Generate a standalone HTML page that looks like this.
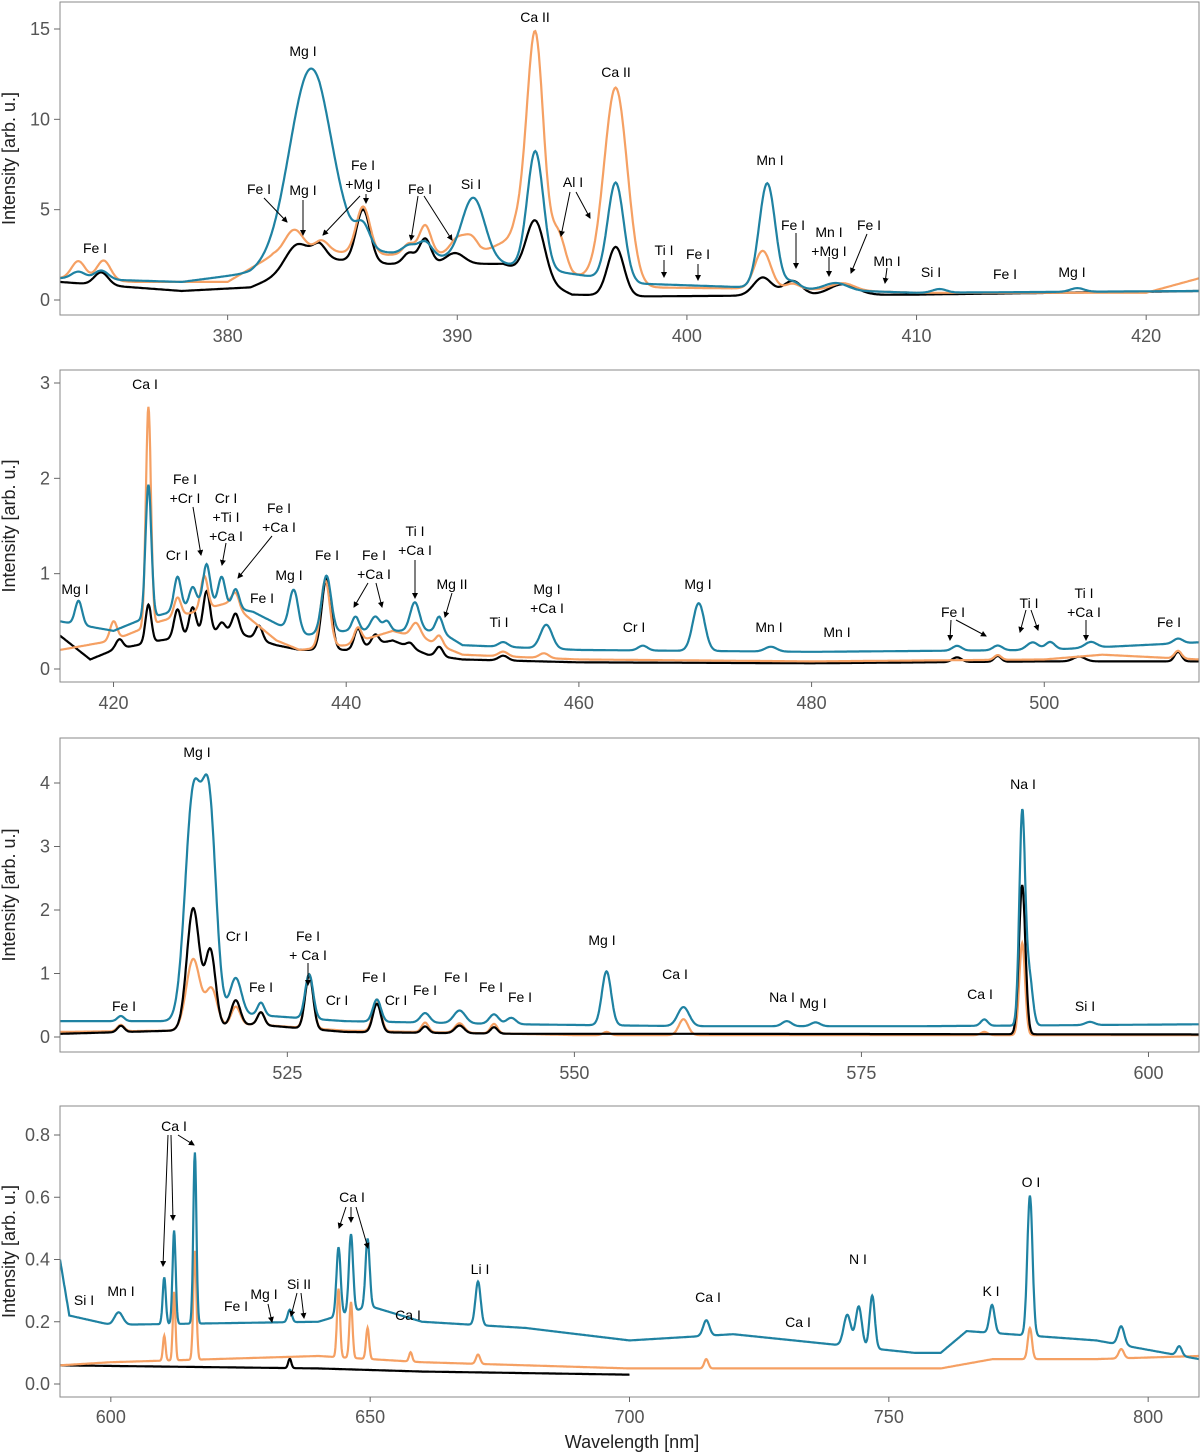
<!DOCTYPE html>
<html><head><meta charset="utf-8">
<style>
html,body{margin:0;padding:0;background:#fff;}
svg{display:block;font-family:"Liberation Sans",Arial,sans-serif;}
.tick{font-size:18px;fill:#555;}
.ann{font-size:14px;fill:#000;}
.ytitle{font-size:18px;fill:#222;}
</style></head>
<body>
<svg id="chart" width="1200" height="1453" viewBox="0 0 1200 1453">
<defs><marker id="ah" markerWidth="6" markerHeight="6" refX="5" refY="3" orient="auto"><path d="M0,0 L6,3 L0,6 z" fill="#000"/></marker></defs>
</svg>
<script>
// ---------- Panel 1 data (373-422 nm) ----------
const p1BlueBx=[372.7,378,381,384,388,392,398,405,410,422.3];
const p1BlueBy=[1.2,1.0,1.5,3.0,2.5,2.0,0.9,0.6,0.4,0.5];
const p1BlueC=[373.5,374.5,383.6,385.9,387.9,388.6,390.7,393.4,396.9,403.5,404.6,406.5,411,417];
const p1BlueH=[0.4,0.5,10.0,1.2,0.5,0.8,3.5,6.5,5.4,5.8,0.4,0.4,0.2,0.2];
const p1BlueW=[0.3,0.3,0.9,0.3,0.3,0.3,0.5,0.35,0.35,0.35,0.3,0.5,0.3,0.3];
const p1OrBx=[372.7,376,380,382,384,387,391,392.5,395,398,405,410,420,422.3];
const p1OrBy=[1.2,1.0,1.0,2.5,2.7,2.5,2.6,3.5,1.4,0.7,0.6,0.4,0.4,1.2];
const p1OrC=[373.5,374.6,382.9,384.1,385.9,387.9,388.6,390,390.6,392.8,393.4,394.4,396.9,403.3,404.6,406.8];
const p1OrH=[1.0,1.1,1.3,0.6,2.6,0.6,1.6,0.8,0.9,1.0,12.0,1.8,10.8,2.1,0.3,0.4];
const p1OrW=[0.3,0.3,0.4,0.3,0.3,0.25,0.25,0.3,0.3,0.3,0.35,0.3,0.5,0.35,0.3,0.5];
const p1BkBx=[372.7,378,381,384,387,392,395,398,410,422.3];
const p1BkBy=[1.0,0.5,0.7,2.3,2.0,2.0,0.3,0.2,0.3,0.5];
const p1BkC=[374.5,383,384,385.9,387.9,388.6,389.9,393.4,396.9,403.3,404.6,406.8];
const p1BkH=[0.7,1.3,0.7,2.9,0.6,1.4,0.6,3.2,2.7,1.0,0.8,0.6];
const p1BkW=[0.3,0.5,0.3,0.3,0.25,0.25,0.4,0.4,0.35,0.4,0.4,0.6];
const p1XTicks=[380,390,400,410,420];
const p1YTicks=[0,5,10,15];
// ---------- Panel 2 data (415-513 nm) ----------
const p2BlueBx=[415.4,420,422,428,432,436,440,448,450,460,480,500,513.3];
const p2BlueBy=[0.5,0.4,0.5,0.7,0.6,0.35,0.4,0.4,0.25,0.2,0.18,0.2,0.28];
const p2BlueC=[417,423,425.5,426.8,428,429.3,430.5,435.5,438.3,440.8,442.5,443.5,445.9,448,453.5,457.2,465.5,470.3,476.5,492.5,496,499,500.5,504,511.5];
const p2BlueH=[0.25,1.4,0.35,0.2,0.4,0.3,0.2,0.45,0.6,0.15,0.15,0.1,0.3,0.15,0.05,0.25,0.05,0.5,0.05,0.05,0.05,0.08,0.08,0.06,0.05];
const p2BlueW=[0.3,0.25,0.3,0.3,0.3,0.3,0.3,0.4,0.4,0.3,0.4,0.3,0.4,0.3,0.4,0.5,0.4,0.5,0.5,0.4,0.4,0.5,0.4,0.5,0.4];
const p2OrBx=[415.4,420,424,430,432,434,436,440,444,447,450,460,480,500,505,513.3];
const p2OrBy=[0.2,0.3,0.5,0.7,0.5,0.3,0.2,0.25,0.4,0.3,0.15,0.1,0.08,0.1,0.15,0.1];
const p2OrC=[420,423,425.5,427.8,430.5,438.2,441,446,448,453.5,457,496,511.5];
const p2OrH=[0.2,2.3,0.2,0.35,0.15,0.7,0.15,0.15,0.1,0.05,0.05,0.05,0.08];
const p2OrW=[0.3,0.22,0.3,0.3,0.3,0.4,0.3,0.4,0.3,0.4,0.4,0.3,0.3];
const p2BkBx=[415.4,418,420,424,430,434,436,440,444,447,450,460,480,500,513.3];
const p2BkBy=[0.35,0.1,0.2,0.3,0.4,0.25,0.2,0.2,0.3,0.15,0.1,0.07,0.06,0.08,0.08];
const p2BkC=[420.5,423,425.5,426.8,428,429.3,430.5,432.5,438.3,441,442.5,445.5,448,453.5,492.5,496,503,511.5];
const p2BkH=[0.1,0.4,0.3,0.3,0.45,0.1,0.2,0.15,0.75,0.2,0.1,0.05,0.1,0.05,0.05,0.06,0.05,0.1];
const p2BkW=[0.3,0.25,0.3,0.3,0.3,0.3,0.3,0.3,0.4,0.3,0.3,0.3,0.3,0.4,0.4,0.3,0.5,0.3];
const p2XTicks=[420,440,460,480,500];
const p2YTicks=[0,1,2,3];
// ---------- Panel 3 data (505-604 nm) ----------
const p3BlueBx=[505.2,515,522,530,545,560,580,604.4];
const p3BlueBy=[0.25,0.25,0.35,0.25,0.2,0.17,0.17,0.2];
const p3BlueC=[510.5,516.8,518.2,520.5,522.7,526.9,532.8,537,540,543,544.5,552.8,559.5,568.5,571,585.7,589,589.6,594.9];
const p3BlueH=[0.08,3.5,3.2,0.6,0.2,0.7,0.35,0.15,0.2,0.15,0.1,0.85,0.3,0.08,0.06,0.1,3.3,0.8,0.05];
const p3BlueW=[0.3,0.7,0.6,0.5,0.3,0.35,0.35,0.4,0.5,0.4,0.4,0.4,0.5,0.4,0.4,0.3,0.25,0.3,0.4];
const p3OrBx=[505.2,515,522,530,545,550,556,565,580,604.4];
const p3OrBy=[0.08,0.1,0.2,0.1,0.05,0.03,0.03,0.03,0.03,0.03];
const p3OrC=[510.5,516.8,518.4,520.5,522.7,526.9,532.8,537,540,543,552.8,559.5,585.7,589];
const p3OrH=[0.1,1.1,0.6,0.3,0.2,0.85,0.5,0.15,0.15,0.15,0.05,0.25,0.05,1.45];
const p3OrW=[0.3,0.6,0.5,0.4,0.3,0.35,0.35,0.3,0.4,0.3,0.3,0.4,0.3,0.25];
const p3BkBx=[505.2,515,522,530,545,560,604.4];
const p3BkBy=[0.05,0.1,0.2,0.08,0.05,0.05,0.04];
const p3BkC=[510.5,516.8,518.3,520.5,522.7,526.9,532.8,537,540,543,589];
const p3BkH=[0.1,1.9,1.2,0.4,0.2,0.85,0.45,0.1,0.12,0.1,2.35];
const p3BkW=[0.3,0.55,0.45,0.4,0.3,0.35,0.35,0.3,0.4,0.3,0.28];
const p3XTicks=[525,550,575,600];
const p3YTicks=[0,1,2,3,4];
// ---------- Panel 4 data (590-810 nm) ----------
const p4BlueBx=[590.2,592,600,640,650,660,680,700,720,755,760,765,790,809.8];
const p4BlueBy=[0.4,0.22,0.19,0.2,0.25,0.2,0.18,0.14,0.16,0.1,0.1,0.17,0.14,0.08];
const p4BlueC=[601.5,610.3,612.2,616.2,634.5,643.9,646.3,649.5,670.8,714.8,742,744.2,746.8,769.9,777.2,794.8,806];
const p4BlueH=[0.04,0.15,0.3,0.55,0.04,0.22,0.25,0.22,0.14,0.05,0.1,0.13,0.17,0.09,0.45,0.06,0.03];
const p4BlueW=[0.8,0.3,0.3,0.3,0.4,0.4,0.4,0.4,0.5,0.6,0.7,0.6,0.5,0.5,0.5,0.6,0.5];
const p4OrBx=[590.2,600,640,660,700,720,760,770,790,809.8];
const p4OrBy=[0.06,0.07,0.09,0.07,0.05,0.05,0.05,0.08,0.08,0.09];
const p4OrC=[610.3,612.2,616.2,643.9,646.3,649.5,657.8,670.8,714.8,777.2,794.8];
const p4OrH=[0.08,0.22,0.35,0.22,0.18,0.1,0.03,0.03,0.03,0.1,0.03];
const p4OrW=[0.25,0.25,0.3,0.3,0.3,0.3,0.3,0.4,0.4,0.4,0.5];
const p4BkBx=[590.2,640,660,700];
const p4BkBy=[0.06,0.05,0.04,0.03];
const p4BkC=[634.5];
const p4BkH=[0.03];
const p4BkW=[0.3];
const p4XTicks=[600,650,700,750,800];
const p4YTicks=[0,0.2,0.4,0.6,0.8];

const BLUE="#1f82a2", ORANGE="#f5a063", BLACK="#000";
const NS="http://www.w3.org/2000/svg";
const svg=document.getElementById('chart');

function interp(bx,by,x){
  if(x<=bx[0])return by[0];
  for(let i=1;i<bx.length;i++){ if(x<=bx[i]){const t=(x-bx[i-1])/(bx[i]-bx[i-1]);return by[i-1]+t*(by[i]-by[i-1]);} }
  return by[by.length-1];
}
function specAt(s,x){
  let v=interp(s.bx,s.by,x);
  for(let i=0;i<s.c.length;i++){const d=(x-s.c[i])/s.w[i];v+=s.h[i]*Math.exp(-0.5*d*d);}
  return v;
}
function mk(tag,attrs,parent){const e=document.createElementNS(NS,tag);for(const k in attrs)e.setAttribute(k,attrs[k]);(parent||svg).appendChild(e);return e;}

const panels=[
 {id:1,top:2,bot:315,x0:372.7,x1:422.3,yMax:15,yPix0:300,yPixMax:29,xt:p1XTicks,yt:p1YTicks,step:0.05,lab:21,yfmt:v=>String(v),
  series:[{name:'black',col:BLACK,bx:p1BkBx,by:p1BkBy,c:p1BkC,h:p1BkH,w:p1BkW},
          {name:'orange',col:ORANGE,bx:p1OrBx,by:p1OrBy,c:p1OrC,h:p1OrH,w:p1OrW},
          {name:'blue',col:BLUE,bx:p1BlueBx,by:p1BlueBy,c:p1BlueC,h:p1BlueH,w:p1BlueW}]},
 {id:2,top:370,bot:682,x0:415.4,x1:513.3,yMax:3,yPix0:669,yPixMax:383,xt:p2XTicks,yt:p2YTicks,step:0.05,lab:21,yfmt:v=>String(v),
  series:[{name:'black',col:BLACK,bx:p2BkBx,by:p2BkBy,c:p2BkC,h:p2BkH,w:p2BkW},
          {name:'orange',col:ORANGE,bx:p2OrBx,by:p2OrBy,c:p2OrC,h:p2OrH,w:p2OrW},
          {name:'blue',col:BLUE,bx:p2BlueBx,by:p2BlueBy,c:p2BlueC,h:p2BlueH,w:p2BlueW}]},
 {id:3,top:738,bot:1052,x0:505.2,x1:604.4,yMax:4,yPix0:1037,yPixMax:783,xt:p3XTicks,yt:p3YTicks,step:0.05,lab:21,yfmt:v=>String(v),
  series:[{name:'orange',col:ORANGE,bx:p3OrBx,by:p3OrBy,c:p3OrC,h:p3OrH,w:p3OrW},
          {name:'black',col:BLACK,bx:p3BkBx,by:p3BkBy,c:p3BkC,h:p3BkH,w:p3BkW},
          {name:'blue',col:BLUE,bx:p3BlueBx,by:p3BlueBy,c:p3BlueC,h:p3BlueH,w:p3BlueW}]},
 {id:4,top:1106,bot:1397,x0:590.2,x1:809.8,yMax:0.8,yPix0:1384,yPixMax:1135,xt:p4XTicks,yt:p4YTicks,step:0.1,lab:20,yfmt:v=>v.toFixed(1),
  series:[{name:'black',col:BLACK,bx:p4BkBx,by:p4BkBy,c:p4BkC,h:p4BkH,w:p4BkW,xEnd:700},
          {name:'orange',col:ORANGE,bx:p4OrBx,by:p4OrBy,c:p4OrC,h:p4OrH,w:p4OrW},
          {name:'blue',col:BLUE,bx:p4BlueBx,by:p4BlueBy,c:p4BlueC,h:p4BlueH,w:p4BlueW}]}
];
const L=60,R=1199;
panels.forEach(p=>{
  const g=mk('g',{});
  
  
  const xs=x=>L+(x-p.x0)/(p.x1-p.x0)*(R-L);
  const ys=y=>p.yPix0+(y/p.yMax)*(p.yPixMax-p.yPix0);
  const cp=mk('clipPath',{id:'cp'+p.id},g);
  mk('rect',{x:L,y:p.top,width:R-L,height:p.bot-p.top},cp);
  p.series.forEach(s=>{
    let d='';const xe=s.xEnd||p.x1;
    for(let x=p.x0;x<=xe+1e-9;x+=p.step){d+=(d?'L':'M')+xs(x).toFixed(1)+','+ys(specAt(s,x)).toFixed(1);}
    const path=mk('path',{d:d,fill:'none',stroke:s.col,'stroke-width':2.2,'clip-path':'url(#cp'+p.id+')'},g);
    
    
  });
  const fr=mk('rect',{x:L,y:p.top,width:R-L,height:p.bot-p.top,fill:'none',stroke:'#8a8a8a','stroke-width':1},g);
  
  
  p.xt.forEach(t=>{
    const X=xs(t);
    mk('line',{x1:X,x2:X,y1:p.bot,y2:p.bot+5,stroke:'#666'},g);
    const tx=mk('text',{x:X,y:p.bot+p.lab+6,'text-anchor':'middle',class:'tick'},g);tx.textContent=t;
    
    
  });
  p.yt.forEach(t=>{
    const Y=ys(t);
    mk('line',{x1:L-6,x2:L,y1:Y,y2:Y,stroke:'#666'},g);
    const tx=mk('text',{x:L-10,y:Y+6,'text-anchor':'end',class:'tick'},g);tx.textContent=p.yfmt(t);
    
    
  });
  const yt=mk('text',{x:0,y:0,class:'ytitle','text-anchor':'middle',transform:'translate(15,'+((p.top+p.bot)/2)+') rotate(-90)'},g);
  yt.textContent='Intensity [arb. u.]';
  
  
});
const xt=mk('text',{x:632,y:1448,'text-anchor':'middle',class:'ytitle'});
xt.textContent='Wavelength [nm]';



const anns=[
 [95,253,'Fe I'],[303,56,'Mg I'],[259,194,'Fe I'],[303,195,'Mg I'],[363,170,'Fe I','+Mg I'],[420,194,'Fe I'],[471,189,'Si I'],
 [535,22,'Ca II'],[616,77,'Ca II'],[573,187,'Al I'],[664,255,'Ti I'],[698,259,'Fe I'],[770,165,'Mn I'],[793,230,'Fe I'],
 [829,237,'Mn I','+Mg I'],[869,230,'Fe I'],[887,266,'Mn I'],[931,277,'Si I'],[1005,279,'Fe I'],[1072,277,'Mg I'],
 [145,389,'Ca I'],[75,594,'Mg I'],[185,484,'Fe I','+Cr I'],[226,503,'Cr I','+Ti I','+Ca I'],[279,513,'Fe I','+Ca I'],[177,560,'Cr I'],
 [262,603,'Fe I'],[289,580,'Mg I'],[327,560,'Fe I'],[374,560,'Fe I','+Ca I'],[415,536,'Ti I','+Ca I'],[452,589,'Mg II'],[499,627,'Ti I'],
 [547,594,'Mg I','+Ca I'],[634,632,'Cr I'],[698,589,'Mg I'],[769,632,'Mn I'],[837,637,'Mn I'],[953,617,'Fe I'],[1029,608,'Ti I'],
 [1084,598,'Ti I','+Ca I'],[1169,627,'Fe I'],
 [197,757,'Mg I'],[237,941,'Cr I'],[261,992,'Fe I'],[308,941,'Fe I','+ Ca I'],[124,1011,'Fe I'],[337,1005,'Cr I'],[374,982,'Fe I'],
 [396,1005,'Cr I'],[425,995,'Fe I'],[456,982,'Fe I'],[491,992,'Fe I'],[520,1002,'Fe I'],[602,945,'Mg I'],[675,979,'Ca I'],
 [782,1002,'Na I'],[813,1008,'Mg I'],[1023,789,'Na I'],[980,999,'Ca I'],[1085,1011,'Si I'],
 [84,1305,'Si I'],[121,1296,'Mn I'],[174,1131,'Ca I'],[352,1202,'Ca I'],[236,1311,'Fe I'],[264,1299,'Mg I'],[299,1289,'Si II'],
 [408,1320,'Ca I'],[480,1274,'Li I'],[708,1302,'Ca I'],[798,1327,'Ca I'],[858,1264,'N I'],[991,1296,'K I'],[1031,1187,'O I']
];
anns.forEach(a=>{
  const t=mk('text',{x:a[0],y:a[1],'text-anchor':'middle',class:'ann'});
  
  
  for(let i=2;i<a.length;i++){const s=mk('tspan',{x:a[0],dy:i===2?0:19},t);s.textContent=a[i];}
});
const arrows=[
 [264,198,287,222],[303,200,303,235],[360,196,323,235],[366,194,366,203],[418,196,411,240],[424,196,452,240],
 [570,192,561,236],[576,192,590,218],[664,260,664,277],[698,264,698,280],[796,233,796,268],[829,257,829,276],[867,234,851,273],[887,268,885,283],
 [193,507,201,555],[226,543,222,565],[272,536,238,578],[368,583,354,607],[376,583,382,607],[415,560,415,598],[452,593,445,617],
 [951,620,950,640],[956,620,986,636],[1026,610,1020,632],[1031,610,1038,630],[1086,620,1086,640],
 [308,963,308,985],
 [168,1135,163,1266],[171,1135,173,1220],[178,1135,194,1145],[346,1207,339,1228],[351,1207,351,1222],[356,1207,368,1248],
 [268,1304,272,1322],[297,1293,291,1316],[301,1293,304,1318]
];
arrows.forEach(a=>{
  const l=mk('line',{x1:a[0],y1:a[1],x2:a[2],y2:a[3],stroke:'#000','stroke-width':1,'marker-end':'url(#ah)'});
  
  
});
</script>
</body></html>
